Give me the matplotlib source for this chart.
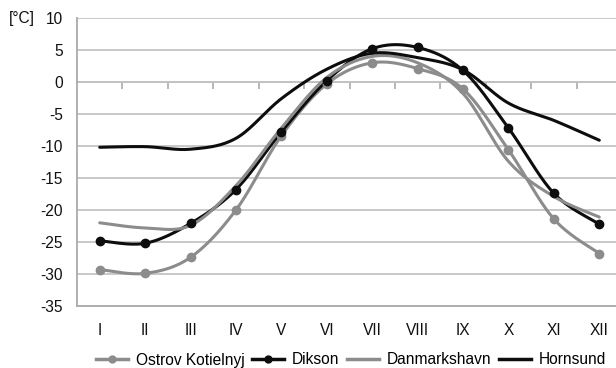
import numpy as np
import matplotlib.pyplot as plt
from matplotlib.lines import Line2D

plt.rcParams['font.family'] = ['Liberation Sans', 'DejaVu Sans']
plt.rcParams['axes.unicode_minus'] = False

# Monthly mean air temperature [°C]
months = ['I', 'II', 'III', 'IV', 'V', 'VI', 'VII', 'VIII', 'IX', 'X', 'XI', 'XII']
ostrov = [-29.3, -29.9, -27.4, -20.0, -8.4, -0.3, 3.0, 2.1, -1.1, -10.6, -21.4, -26.8]
dikson = [-24.8, -25.2, -22.1, -16.8, -7.8, 0.2, 5.2, 5.4, 1.8, -7.2, -17.4, -22.2]
danmarkshavn = [-22.0, -22.8, -22.4, -16.2, -7.2, 0.7, 4.0, 3.0, -1.8, -12.4, -17.9, -21.1]
hornsund = [-10.2, -10.1, -10.5, -8.8, -2.6, 2.0, 4.5, 3.8, 1.9, -3.3, -6.0, -9.1]

GRAY = '#8c8c8c'
BLACK = '#0d0d0d'
GRID = '#c4c4c4'
FS = 11.2


def smooth(xs, ys, n=30):
    # Catmull-Rom curve through the monthly points (Excel-style smoothed line)
    p = np.column_stack([xs, ys]).astype(float)
    p = np.vstack([p[0], p, p[-1]])
    out = []
    t = np.linspace(0, 1, n, endpoint=False)[:, None]
    for i in range(1, len(p) - 2):
        p0, p1, p2, p3 = p[i - 1], p[i], p[i + 1], p[i + 2]
        c1 = p1 + (p2 - p0) / 6
        c2 = p2 - (p3 - p1) / 6
        seg = ((1 - t) ** 3) * p1 + 3 * ((1 - t) ** 2) * t * c1 + 3 * (1 - t) * t ** 2 * c2 + t ** 3 * p2
        out.append(seg)
    out.append(p[-2][None, :])
    out = np.vstack(out)
    return out[:, 0], out[:, 1]


fig = plt.figure(figsize=(6.16, 3.68), dpi=100)
ax = fig.add_axes([77 / 616, 1 - 306 / 368, 545 / 616, 288 / 368])

x = np.arange(len(months))
series = [
    (ostrov, GRAY, True, 'Ostrov Kotielnyj'),
    (dikson, BLACK, True, 'Dikson'),
    (danmarkshavn, GRAY, False, 'Danmarkshavn'),
    (hornsund, BLACK, False, 'Hornsund'),
]
for vals, col, mark, name in series:
    sx, sy = smooth(x, vals)
    ax.plot(sx, sy, color=col, lw=2.2, solid_capstyle='round', zorder=3)
    if mark:
        ax.plot(x, vals, 'o', color=col, ms=6, zorder=4)

ax.set_xlim(-0.5, 11.5)
ax.set_ylim(-35, 10)
ax.set_yticks(np.arange(-35, 11, 5))
ax.set_xticks(x)
ax.set_xticklabels(months)
ax.tick_params(axis='both', length=0, labelsize=FS, colors='#111111')
ax.tick_params(axis='y', pad=10)
ax.tick_params(axis='x', pad=12)
ax.yaxis.grid(True, color=GRID, lw=1.3)
ax.set_axisbelow(True)

for s in ['top', 'right']:
    ax.spines[s].set_visible(False)
for s in ['left', 'bottom']:
    ax.spines[s].set_color('#aaaaaa')
    ax.spines[s].set_linewidth(1.3)

# horizontal axis line crossing at 0 with category dividers
sec = ax.secondary_xaxis(35 / 45)
sec.set_alignment('bottom')
sec.set_xticks(np.arange(0.5, 11, 1))
sec.set_xticklabels([])
sec.tick_params(axis='x', direction='out', length=5, width=1.2, color='#aaaaaa')
sec.spines['bottom'].set_color('#aaaaaa')
sec.spines['bottom'].set_linewidth(1.3)

fig.text(9 / 616, 1 - 19 / 368, '[°C]', fontsize=FS, ha='left', va='center', color='#111111')

handles = [
    Line2D([], [], color=GRAY, lw=2.5, marker='o', ms=5),
    Line2D([], [], color=BLACK, lw=2.5, marker='o', ms=5),
    Line2D([], [], color=GRAY, lw=2.5),
    Line2D([], [], color=BLACK, lw=2.5),
]
fig.legend(handles, [s[3] for s in series], loc='center', ncol=4,
           bbox_to_anchor=(351 / 616, 1 - 360 / 368), frameon=False, fontsize=FS,
           handlelength=2.1, handletextpad=0.5, columnspacing=0.45, borderpad=0)

fig.savefig('out.png', dpi=100)
